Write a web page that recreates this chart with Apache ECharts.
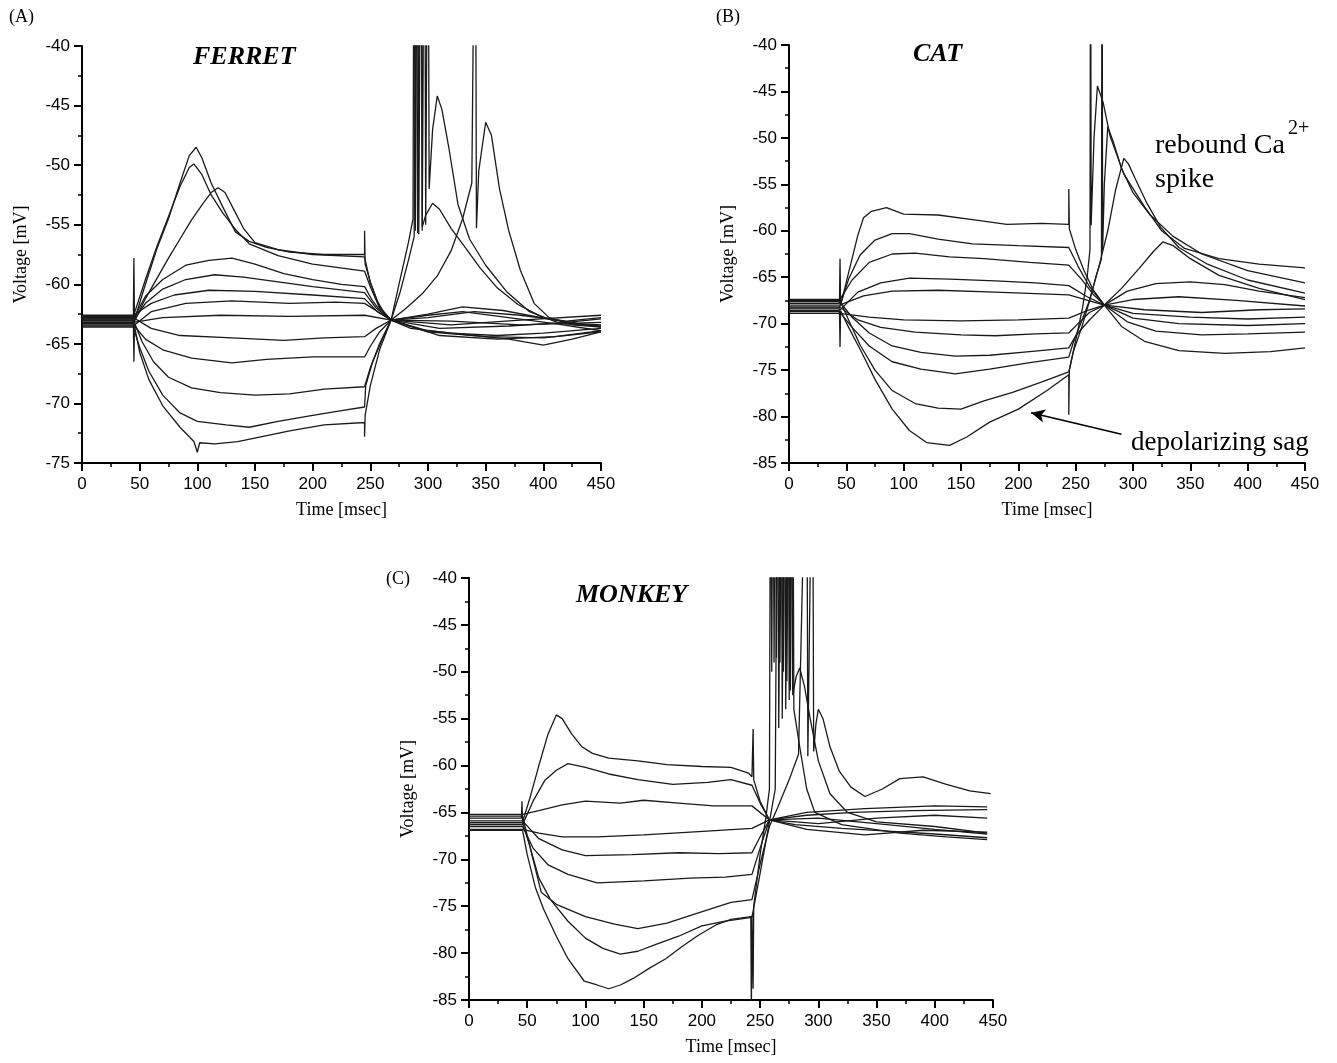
<!DOCTYPE html>
<html>
<head>
<meta charset="utf-8">
<script src="https://cdn.jsdelivr.net/npm/echarts@6/dist/echarts.min.js"></script>
<style>
  html, body { margin: 0; padding: 0; background: #fff; }
  #chart { width: 1337px; height: 1063px; }
</style>
</head>
<body>
<div id="chart"></div>
<script>
// time ticks (ms) and voltage ranges
var timeRange = [0, 450];
var ferretRange = [-75, -40];
var catRange = [-85, -40];
var monkeyRange = [-85, -40];

// (A) FERRET traces, [time ms, voltage mV]; spikes above -40 are clipped
var ferret = [
  [[0,-63.0],[44.5,-63.0],[45,-57.8],[45.5,-63.0],[55,-60],[65,-57],[75,-54.5],[85,-51.5],[93,-49.2],[99,-48.5],[104,-49.4],[112,-51.5],[122,-53.5],[133,-55.6],[145,-56.4],[160,-56.9],[180,-57.3],[210,-57.5],[245,-57.5],[245,-55.5],[245.5,-58.3],[250,-59.8],[256,-61.4],[262,-62.4],[268,-63],[285,-63.7],[320,-64.1],[360,-64.3],[400,-64.1],[450,-63.7]],
  [[0,-62.7],[44.5,-62.7],[55,-59.6],[65,-56.8],[75,-54.3],[85,-51.8],[93,-50.2],[97,-49.9],[104,-50.8],[112,-52.5],[122,-54],[133,-55.4],[145,-56.6],[170,-57.6],[200,-58.3],[245,-58.9],[250,-60.2],[258,-62],[268,-63],[300,-64],[350,-64.4],[400,-64.5],[450,-64.0]],
  [[0,-63.3],[44.5,-63.3],[55,-61.2],[65,-59.5],[75,-57.8],[85,-56.2],[95,-54.6],[105,-53.2],[112,-52.3],[118,-51.9],[124,-52.3],[132,-53.8],[140,-55.3],[150,-56.5],[170,-57.1],[200,-57.5],[245,-57.7],[250,-59.9],[258,-61.9],[268,-63],[310,-64.3],[360,-64.6],[410,-64.4],[450,-63.9]],
  [[0,-62.9],[44.5,-62.9],[55,-61],[70,-59.6],[90,-58.4],[110,-58.0],[130,-57.8],[150,-58.3],[175,-59.1],[200,-59.6],[225,-60.0],[245,-60.2],[252,-61.4],[260,-62.4],[268,-63],[300,-63.9],[340,-64.3],[370,-64.6],[400,-65.1],[425,-64.6],[450,-64.0]],
  [[0,-63.1],[44.5,-63.1],[55,-61.6],[70,-60.4],[90,-59.6],[115,-59.2],[140,-59.4],[170,-59.8],[200,-60.2],[245,-60.7],[255,-62],[268,-63],[310,-63.7],[370,-63.5],[420,-63.2],[450,-62.9]],
  [[0,-62.6],[44.5,-62.6],[60,-61.6],[80,-60.9],[110,-60.5],[150,-60.6],[200,-60.9],[245,-61.2],[256,-62.3],[268,-63],[320,-63.4],[380,-63.0],[450,-62.6]],
  [[0,-63.5],[44.5,-63.5],[60,-62.3],[90,-61.6],[130,-61.4],[180,-61.6],[220,-61.5],[245,-61.6],[268,-63],[320,-63.1],[380,-63.4],[450,-63.2]],
  [[0,-63.2],[44.5,-63.2],[70,-62.8],[120,-62.6],[180,-62.7],[245,-62.6],[268,-63],[300,-62.6],[330,-62.3],[370,-62.8],[410,-63.3],[450,-63.9]],
  [[0,-62.8],[44.5,-62.8],[60,-63.7],[85,-64.3],[130,-64.5],[175,-64.7],[210,-64.5],[245,-64.4],[255,-63.7],[268,-63],[300,-62.5],[330,-61.9],[365,-62.2],[410,-63],[450,-63.6]],
  [[0,-63.4],[44.5,-63.4],[55,-64.6],[70,-65.5],[95,-66.2],[130,-66.6],[160,-66.3],[200,-66.1],[245,-66.1],[250,-65.2],[258,-64],[268,-63],[300,-62.8],[340,-62.3],[380,-62.6],[420,-63.1],[450,-62.8]],
  [[0,-63.0],[44.5,-63.0],[52,-64.8],[62,-66.5],[75,-67.8],[95,-68.7],[120,-69.1],[150,-69.3],[180,-69.2],[210,-68.8],[245,-68.6],[250,-67],[258,-65],[268,-63],[280,-62.1],[295,-60.8],[308,-59.3],[320,-57.2],[330,-54.5],[338,-51.5],[341,-20],[342,-55.3],[344,-50.5],[350,-46.4],[355,-47.5],[362,-52],[370,-55.5],[380,-58.8],[392,-61.6],[405,-62.8],[425,-63.4],[450,-63.6]],
  [[0,-63.6],[44.5,-63.6],[50,-65.3],[58,-67.3],[70,-69.3],[85,-70.8],[100,-71.5],[125,-71.8],[145,-72.0],[170,-71.5],[200,-71.0],[225,-70.6],[245,-70.3],[246,-68.5],[252,-66.5],[260,-64.7],[268,-63],[276,-60.6],[283,-58],[288,-56],[290,-20],[291,-55.7],[294,-20],[295,-55.2],[298,-54.2],[304,-53.2],[310,-53.7],[320,-55.3],[333,-57],[345,-58.6],[360,-60.3],[378,-61.7],[400,-62.8],[430,-63.3],[450,-63.4]],
  [[0,-62.9],[44.5,-62.9],[45,-66.5],[45.5,-63.5],[50,-65.7],[58,-68],[70,-70.2],[85,-72],[97,-73.2],[100,-74.1],[102,-73.3],[115,-73.4],[135,-73.2],[155,-72.8],[180,-72.3],[210,-71.8],[245,-71.6],[245,-72.8],[245.5,-71],[250,-68.5],[258,-65.5],[268,-63],[276,-59.5],[283,-56.5],[287,-54.5],[288,-20],[289,-55.5],[291,-20],[292,-55.8],[294,-20],[295,-55.5],[297,-20],[298,-55],[300,-20],[301,-52],[304,-47],[308,-44.2],[312,-45.3],[318,-48.5],[326,-53.3],[336,-56.2],[350,-58.4],[368,-60.6],[388,-62.3],[415,-63.3],[450,-63.5]]
];

// (B) CAT traces
var cat = [
  [[0,-67.8],[44,-67.8],[44.5,-63],[45,-68],[50,-65.5],[55,-63],[60,-60.5],[65,-58.6],[72,-57.9],[85,-57.5],[100,-58.2],[130,-58.3],[160,-58.8],[190,-59.3],[220,-59.2],[244,-59.3],[244,-55.5],[244.5,-59.8],[250,-62],[257,-64.2],[265,-66.3],[275,-68],[290,-70.3],[310,-71.9],[340,-72.9],[380,-73.2],[420,-73.0],[450,-72.6]],
  [[0,-68.3],[44,-68.3],[52,-65.2],[62,-62.6],[75,-61],[90,-60.3],[105,-60.3],[130,-60.9],[160,-61.4],[200,-61.6],[244,-61.8],[252,-63.8],[262,-66],[275,-68],[295,-69.8],[320,-70.8],[360,-71.2],[400,-71.1],[450,-70.9]],
  [[0,-67.5],[44,-67.5],[55,-65.3],[70,-63.4],[90,-62.5],[110,-62.4],[140,-62.8],[170,-63],[210,-63.4],[244,-63.7],[255,-65.2],[265,-66.8],[275,-68],[300,-69.4],[340,-70],[400,-70.2],[450,-70]],
  [[0,-68.6],[44,-68.6],[60,-66.6],[80,-65.6],[105,-65.1],[140,-65.2],[180,-65.4],[215,-65.6],[244,-65.9],[260,-67.1],[275,-68],[300,-68.9],[350,-69.3],[400,-69.5],[450,-69.3]],
  [[0,-68.0],[44,-68.0],[65,-67],[90,-66.5],[130,-66.4],[180,-66.6],[244,-66.9],[275,-68],[310,-68.5],[360,-68.8],[410,-68.5],[450,-68.4]],
  [[0,-68.9],[44,-68.9],[70,-69.3],[100,-69.6],[150,-69.7],[200,-69.6],[244,-69.4],[260,-68.6],[275,-68],[300,-67.4],[340,-67.1],[390,-67.5],[450,-68.1]],
  [[0,-68.2],[44,-68.2],[60,-69.6],[80,-70.4],[110,-70.9],[150,-71.2],[180,-71.3],[215,-71.1],[244,-71],[252,-70],[262,-68.8],[275,-68],[295,-66.5],[320,-65.7],[350,-65.5],[380,-65.8],[410,-66.5],[450,-67.2]],
  [[0,-67.6],[44,-67.6],[55,-69.3],[70,-71],[90,-72.4],[115,-73.1],[145,-73.5],[175,-73.4],[210,-73],[244,-72.6],[250,-71.3],[262,-69.6],[275,-68],[290,-66.2],[305,-64.1],[318,-62.2],[326,-61.2],[335,-61.6],[350,-63],[375,-64.8],[410,-66.2],[450,-67.4]],
  [[0,-68.7],[44,-68.7],[55,-70.4],[70,-72.4],[90,-74.1],[115,-74.9],[145,-75.4],[175,-74.9],[210,-74.2],[244,-73.6],[248,-72],[255,-69.8],[262,-67.5],[270,-64],[278,-60],[285,-55.5],[292,-52.2],[296,-52.8],[302,-54.4],[312,-57],[324,-59.6],[340,-61.8],[365,-63.6],[400,-65.3],[450,-66.7]],
  [[0,-67.4],[44,-67.4],[52,-69.6],[62,-72.3],[75,-75],[90,-77.2],[110,-78.6],[130,-79.1],[150,-79.2],[170,-78.3],[195,-77.4],[220,-76.3],[244,-75.2],[248,-73],[255,-70.5],[262,-67.6],[268,-64.8],[272.5,-63],[273,-20],[273.5,-62.1],[275,-55],[278,-48.8],[283,-50.5],[290,-53.3],[300,-55.9],[315,-58.3],[335,-60.6],[360,-62.5],[400,-64.3],[450,-65.6]],
  [[0,-68.4],[44,-68.4],[44.5,-72.5],[45,-68.6],[52,-70.4],[63,-73],[75,-76],[90,-79.2],[105,-81.5],[120,-82.8],[140,-83.1],[155,-82.2],[175,-80.6],[200,-79.2],[225,-77.2],[244,-75.5],[244,-79.8],[244.5,-75],[250,-71.8],[256,-68.3],[260,-65],[262.5,-62],[263,-20],[263.5,-59.4],[266,-50],[269,-44.4],[274,-46.2],[280,-49.8],[292,-53.9],[310,-57.4],[325,-60],[345,-61.9],[375,-63],[410,-63.6],[450,-64]]
];

// (C) MONKEY traces
var monkey = [
  [[0,-65.6],[45,-65.6],[45.5,-63.8],[46,-66],[52,-63.6],[60,-60],[68,-56.6],[75,-54.6],[80,-55],[88,-56.6],[97,-58],[106,-58.7],[120,-59.2],[145,-59.5],[170,-59.9],[200,-60.1],[225,-60.2],[240,-60.8],[243,-61.2],[244,-56.1],[244.5,-61.5],[250,-63.8],[258,-65.8],[280,-66.3],[320,-66.7],[360,-67],[400,-67.3],[445,-67.7]],
  [[0,-66.3],[46,-66.3],[55,-63.8],[65,-61.6],[75,-60.5],[85,-59.8],[100,-60.2],[120,-60.9],[145,-61.5],[175,-62],[205,-61.8],[225,-61.5],[243,-62.1],[250,-64],[258,-65.8],[290,-66.8],[340,-67.4],[390,-66.9],[445,-67.1]],
  [[0,-65.2],[46,-65.2],[60,-64.8],[80,-64.2],[100,-63.8],[130,-64],[150,-63.7],[180,-64],[210,-64.3],[243,-64.3],[258,-65.8],[300,-66.2],[350,-65.6],[400,-65.3],[445,-65.6]],
  [[0,-66.8],[46,-66.8],[60,-67.2],[80,-67.6],[110,-67.6],[150,-67.4],[190,-67.1],[243,-66.7],[258,-65.8],[300,-65.6],[350,-66.2],[400,-66.8],[445,-67.3]],
  [[0,-65.9],[46,-65.9],[60,-67.8],[80,-69],[100,-69.6],[140,-69.5],[180,-69.3],[215,-69.4],[243,-69.3],[250,-67.6],[258,-65.8],[290,-65.3],[330,-65],[380,-64.8],[445,-64.7]],
  [[0,-66.5],[46,-66.5],[55,-68.8],[68,-70.6],[85,-71.6],[110,-72.5],[150,-72.3],[190,-72],[220,-71.9],[243,-71.6],[250,-68.8],[258,-65.8],[290,-65],[340,-64.6],[400,-64.3],[445,-64.4]],
  [[0,-65.4],[46,-65.4],[55,-70],[62,-73.5],[75,-74.8],[100,-76.1],[125,-76.9],[145,-77.4],[170,-76.8],[195,-75.8],[225,-74.6],[243,-74.3],[250,-70.5],[258,-66.5],[265,-64.5],[275,-61.5],[283,-58.8],[290,-20],[291,-59],[295,-20],[296,-58.5],[298,-55.5],[300,-54],[304,-55],[310,-58],[318,-60.6],[328,-62.3],[340,-63.3],[355,-62.5],[370,-61.4],[390,-61.2],[410,-62],[430,-62.7],[448,-63]],
  [[0,-66.1],[46,-66.1],[52,-68.5],[60,-72],[70,-74.3],[85,-76.6],[100,-78.4],[115,-79.5],[130,-80.1],[145,-79.8],[160,-79.1],[180,-78.2],[200,-77.1],[220,-76.6],[243,-76.2],[250,-71.5],[258,-66],[263,-62.5],[265,-20],[266,-56],[268,-20],[269,-55],[271,-20],[272,-54],[274,-20],[275,-53],[277,-20],[278,-52.5],[281,-50.5],[284,-49.6],[288,-51.5],[293,-55],[300,-59.5],[310,-63],[325,-65],[350,-66],[400,-66.5],[445,-67.2]],
  [[0,-66.9],[46,-66.9],[50,-69.5],[57,-73],[64,-75.3],[75,-78.2],[85,-80.6],[99,-83],[110,-83.4],[120,-83.8],[130,-83.4],[141,-82.7],[155,-81.6],[169,-80.6],[183,-79.3],[197,-78.1],[212,-77],[225,-76.4],[242,-76.1],[242.5,-86],[243,-76],[244,-83.8],[244.5,-75],[250,-69.5],[255,-65.5],[258,-62.5],[259,-20],[260,-50],[261,-20],[262,-49],[263,-20],[264,-48.5],[266,-20],[267,-49],[269,-20],[270,-50],[272,-20],[273,-51],[275,-20],[276,-52],[278,-20],[279,-54],[284,-58],[290,-62.5],[297,-65],[320,-66.3],[370,-67.2],[410,-67.6],[445,-67.9]]
];

var chart = echarts.init(document.getElementById('chart'), null, { renderer: 'canvas' });

var grids = [
  { left: 82, top: 46, width: 519, height: 417 },
  { left: 789, top: 45, width: 516, height: 418 },
  { left: 469, top: 578, width: 524, height: 422 }
];
var ranges = [ferretRange, catRange, monkeyRange];
var panels = [ferret, cat, monkey];

function xAxisFor(i) {
  return {
    gridIndex: i, type: 'value', min: timeRange[0], max: timeRange[1], interval: 50,
    name: 'Time [msec]', nameLocation: 'middle', nameGap: 38,
    nameTextStyle: { fontFamily: 'Liberation Serif', fontSize: 18, color: '#000' },
    axisLine: { lineStyle: { color: '#000', width: 2 } },
    axisTick: { show: true, inside: false, length: 8, lineStyle: { color: '#000', width: 2 } },
    minorTick: { show: true, splitNumber: 2, length: 4, lineStyle: { color: '#000', width: 1.5 } },
    axisLabel: { fontFamily: 'Liberation Sans', fontSize: 17, color: '#000', margin: 13 },
    splitLine: { show: false }
  };
}
function yAxisFor(i) {
  return {
    gridIndex: i, type: 'value', min: ranges[i][0], max: ranges[i][1], interval: 5,
    name: 'Voltage [mV]', nameLocation: 'middle', nameGap: 52, nameRotate: 90,
    nameTextStyle: { fontFamily: 'Liberation Serif', fontSize: 18, color: '#000' },
    axisLine: { lineStyle: { color: '#000', width: 2 } },
    axisTick: { show: true, inside: false, length: 8, lineStyle: { color: '#000', width: 2 } },
    minorTick: { show: true, splitNumber: 2, length: 4, lineStyle: { color: '#000', width: 1.5 } },
    axisLabel: { fontFamily: 'Liberation Sans', fontSize: 17, color: '#000', margin: 12 },
    splitLine: { show: false }
  };
}

var series = [];
panels.forEach(function (traces, p) {
  traces.forEach(function (tr) {
    series.push({
      type: 'line', xAxisIndex: p, yAxisIndex: p, data: tr,
      showSymbol: false, symbol: 'none', clip: true, silent: true,
      lineStyle: { color: '#1a1a1a', width: 1.3 }
    });
  });
});

// arrow pointing to the sag in panel B
series.push({
  type: 'line', xAxisIndex: 1, yAxisIndex: 1, data: [], silent: true,
  markLine: {
    silent: true, symbol: ['none', 'arrow'], symbolSize: [10, 14],
    label: { show: false },
    lineStyle: { color: '#000', width: 1.6, type: 'solid' },
    data: [[{ coord: [290, -81.9] }, { coord: [211, -79.6] }]]
  }
});

var serif = 'Liberation Serif';
chart.setOption({
  animation: false,
  backgroundColor: '#fff',
  grid: grids,
  xAxis: [xAxisFor(0), xAxisFor(1), xAxisFor(2)],
  yAxis: [yAxisFor(0), yAxisFor(1), yAxisFor(2)],
  series: series,
  graphic: [
    { type: 'text', left: 9, top: 8, style: { text: '(A)', font: '18px "' + serif + '"', fill: '#000' } },
    { type: 'text', left: 716, top: 8, style: { text: '(B)', font: '18px "' + serif + '"', fill: '#000' } },
    { type: 'text', left: 386, top: 570, style: { text: '(C)', font: '18px "' + serif + '"', fill: '#000' } },
    { type: 'text', left: 193, top: 44, style: { text: 'FERRET', font: 'italic bold 26px "' + serif + '"', fill: '#000' } },
    { type: 'text', left: 913, top: 41, style: { text: 'CAT', font: 'italic bold 26px "' + serif + '"', fill: '#000' } },
    { type: 'text', left: 576, top: 582, style: { text: 'MONKEY', font: 'italic bold 26px "' + serif + '"', fill: '#000' } },
    { type: 'text', left: 1155, top: 132, style: { text: 'rebound Ca', font: '28px "' + serif + '"', fill: '#000' } },
    { type: 'text', left: 1288, top: 119, style: { text: '2+', font: '20px "' + serif + '"', fill: '#000' } },
    { type: 'text', left: 1155, top: 166, style: { text: 'spike', font: '28px "' + serif + '"', fill: '#000' } },
    { type: 'text', left: 1131, top: 429, style: { text: 'depolarizing sag', font: '27px "' + serif + '"', fill: '#000' } }
  ]
});
</script>
</body>
</html>
